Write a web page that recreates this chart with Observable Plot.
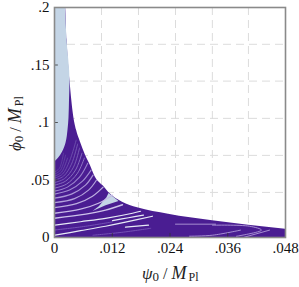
<!DOCTYPE html>
<html><head><meta charset="utf-8">
<style>html,body{margin:0;padding:0;background:#fff}svg{display:block}</style>
<script src="https://cdn.jsdelivr.net/npm/d3@7"></script>
<script src="https://cdn.jsdelivr.net/npm/@observablehq/plot@0.6"></script>
</head><body><div id="c"></div>
<script>
const xTicks=[0,.012,.024,.036,.048];
const yTicks=[0,.05,.1,.15,.2];
const xLabels=["0",".012",".024",".036",".048"];
const yLabels=["0",".05",".1",".15",".2"];
const gridX=[.00977,.01745,.02514,.0328,.0403];
const gridY=[.0392,.0714,.1036,.136,.168];
const edgePsi=[.00229,.0026,.00322,.00395,.00457,.0054,.00644,.00748,.0085,.0102,.01122,.01413,.01725,.02369,.03283,.04031,.048];
const edgePhi=[.2,.1717,.136,.1064,.0934,.0829,.0716,.0625,.0525,.0445,.0394,.0307,.0259,.0203,.0146,.0107,.0072];
const bluePhi=[.0655,.069,.0742,.082,.0934,.1038,.1195,.136,.1717,.2];
const bluePsi=[0,.00083,.00166,.00239,.00281,.00301,.00312,.00322,.0026,.00229];
const wedgePsi=[.0079,.0106,.0133,.01122,.0108,.0092];
const wedgePhi=[.0231,.0281,.0318,.0388,.035,.0272];
const brightPsi=[[.0001,.0054,.0106,.01475,.02036],[.0001,.0054,.0106,.01621,.01787],[.01205,.01538,.01849],[.01475,.01953]];
const brightPhi=[[.002,.0059,.0098,.0133,.0185],[.0107,.0137,.0167,.0211,.0228],[.0146,.0172,.0194],[.009,.0107]];
const softPsi=[[0,.0065,.0106,.01413],[0,.0054,.00914,.01205],[0,.00457,.0079,.0101],[0,.00416,.00707,.0087],[0,.00353,.00644,.008],[0,.00312,.00582,.0076],[0,.0027,.0052,.0069],[0,.00249,.00478,.0062],[0,.00229,.00436,.0057],[0,.00208,.00395,.0052],[0,.00187,.00353,.0048],[0,.00166,.00312,.0045],[0,.00145,.0027],[0,.00125,.00229],[0,.00104,.00187]];
const softPhi=[[.0168,.0203,.0238,.0285],[.0211,.0246,.0298,.0368],[.0259,.0294,.0359,.0438],[.0303,.0338,.0412,.0498],[.0342,.0377,.0455,.0542],[.0377,.0412,.049,.0586],[.0403,.0438,.0525,.0646],[.0429,.0464,.0559,.069],[.0455,.049,.0586,.0733],[.0477,.0512,.0612,.0777],[.0498,.0533,.0638,.0812],[.0516,.0551,.0664,.0846],[.0533,.0568,.069],[.0551,.0586,.0716],[.0568,.0603,.0733]];
const softWidth=[1.4,1.3,1.3,1.2,1.2,1.1,1.1,1,1,.9,.9,.8,.8,.7,.7];
const softColor=["#cdc3ea","#c6b9e6","#bcaee0","#b3a2db","#aa97d6","#a18cd1","#9880cb","#8f75c5","#866bbf","#7f63ba","#785cb5","#7257b1","#6d52ad","#694ea9","#654ba6"];
const dimPsi=[[0,.006,.012],[.008,.014,.02]];
const dimPhi=[[.0065,.0095,.0135],[.002,.0045,.008]];
const ringPsi=[[.03782,.04301,.04052,.03283],[.02805,.03283,.03865],[.04468,.03948],[.02514,.03346]];
const ringPhi=[[.0011,.0064,.0098,.0107],[.0011,.002,.0064],[.0064,.0003],[.0116,.0116]];

const zip=(a,b)=>a.map((v,i)=>({x:v,y:b[i]}));
const curve=(a,b,o)=>Plot.line(zip(a,b),{x:"x",y:"y",curve:"catmull-rom",...o});
const marks=[
  Plot.ruleX(gridX,{stroke:"#dcdcdc",strokeDasharray:"8 5",strokeWidth:1}),
  Plot.ruleY(gridY,{stroke:"#dcdcdc",strokeDasharray:"8 5",strokeWidth:1}),
  Plot.areaY([{x:0,y:.2},...zip(edgePsi,edgePhi)],{x:"x",y:"y",fill:"#4a1d92",curve:"monotone-x"}),
  Plot.areaX(zip(bluePsi,bluePhi),{x:"x",y:"y",fill:"#c4d5e6",curve:"monotone-y"}),
  Plot.line(zip(wedgePsi,wedgePhi),{x:"x",y:"y",fill:"#c4d5e6",stroke:"none",curve:"linear-closed"}),
  ...dimPsi.map((p,i)=>curve(p,dimPhi[i],{stroke:"#7450b5",strokeWidth:1})),
  ...softPsi.map((p,i)=>curve(p,softPhi[i],{stroke:softColor[i],strokeWidth:softWidth[i]})),
  ...brightPsi.map((p,i)=>curve(p,brightPhi[i],{stroke:"#e6eaf5",strokeWidth:1.2})),
  ...ringPsi.map((p,i)=>curve(p,ringPhi[i],{stroke:"#bda9e2",strokeWidth:.8})),
  Plot.ruleX(xTicks,{y1:0,y2:.0035,stroke:"#333",strokeWidth:.8}),
  Plot.ruleY(yTicks,{x1:0,x2:.0008,stroke:"#333",strokeWidth:.8}),
  Plot.frame({stroke:"#8a8a8a",strokeWidth:1.6}),
  Plot.axisX(xTicks,{tickSize:0,tickPadding:5,tickFormat:d=>xLabels[xTicks.indexOf(d)],label:null,fontSize:15,fontFamily:"Liberation Serif",fill:"#111"}),
  Plot.axisY(yTicks,{tickSize:0,tickPadding:5,tickFormat:d=>yLabels[yTicks.indexOf(d)],label:null,fontSize:15,fontFamily:"Liberation Serif",fill:"#111"})
];
const svg=Plot.plot({width:299,height:287,marginLeft:54,marginRight:14,marginTop:7,marginBottom:50,
  style:{background:"#fff",fontFamily:"Liberation Serif"},
  x:{domain:[0,.048]},y:{domain:[0,.2]},marks});
const title=(x,y,rot,parts)=>{
  const t=d3.select(svg).append("text").attr("transform",`translate(${x},${y}) rotate(${rot})`).attr("text-anchor","start").attr("font-family","Liberation Serif").attr("fill","#222");
  parts.forEach(([s,sz,st,dy,dx])=>t.append("tspan").text(s).attr("font-size",sz).attr("font-style",st).attr("dy",dy).attr("dx",dx));
};
title(142,279,0,[["ψ",17,"italic",0,0],["0",13,"normal",1.5,0],[" / ",16,"normal",-1.5,0],["M",18,"italic",0,0],["Pl",12,"normal",1.5,2]]);
title(21,151,-90,[["ϕ",17,"italic",0,0],["0",13,"normal",1.5,0],[" / ",16,"normal",-1.5,0],["M",18,"italic",0,0],["Pl",12,"normal",1.5,2]]);
document.getElementById("c").appendChild(svg);
</script></body></html>
